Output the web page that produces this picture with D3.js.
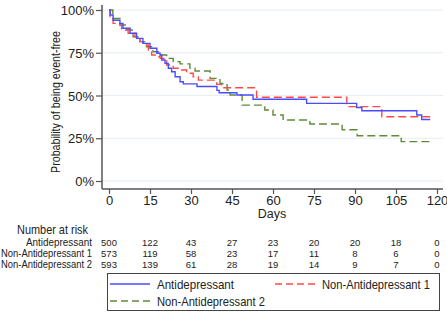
<!DOCTYPE html>
<html>
<head>
<meta charset="utf-8">
<script src="https://d3js.org/d3.v7.min.js"></script>
<style>
  body { margin: 0; background: #fff; }
  text { font-family: "Liberation Sans Narrow", "Arial Narrow", "Liberation Sans", Arial, sans-serif; }
</style>
</head>
<body>
<svg id="drawing_region"></svg>
<script>
// Kaplan-Meier steps (day, survival after the drop)
var antiDays = [0, 0.4, 1.5, 4.0, 5.1, 7.7, 10.1, 12.4, 15.0, 17.5, 18.7, 19.3, 20.5, 21.7, 22.9, 24.2, 26.0, 27.2, 32.2, 39.5, 40.3, 46.8, 52.7, 72.3, 90.6, 92.5, 112.6, 114.4, 117.5];
var antiSurv = [1.0, 0.971, 0.94, 0.922, 0.893, 0.864, 0.834, 0.805, 0.776, 0.747, 0.737, 0.708, 0.688, 0.659, 0.639, 0.61, 0.58, 0.568, 0.553, 0.53, 0.516, 0.503, 0.478, 0.454, 0.43, 0.411, 0.386, 0.36, 0.36];

var non1Days = [0, 0.4, 1.5, 4.0, 4.6, 7.0, 9.5, 11.3, 12.6, 14.4, 15.6, 17.5, 18.7, 21.1, 23.5, 26.0, 28.4, 30.8, 32.7, 39.4, 41.2, 54.0, 87.0, 99.8, 117.5];
var non1Surv = [1.0, 0.96, 0.922, 0.912, 0.883, 0.864, 0.844, 0.815, 0.795, 0.766, 0.737, 0.727, 0.717, 0.678, 0.659, 0.649, 0.63, 0.61, 0.59, 0.565, 0.545, 0.49, 0.435, 0.376, 0.376];

var non2Days = [0, 1.4, 4.0, 6.5, 8.8, 11.3, 13.7, 16.1, 18.7, 21.1, 23.5, 26.0, 29.6, 31.5, 37.0, 40.6, 43.2, 44.3, 48.7, 57.0, 60.0, 63.7, 73.5, 85.3, 90.8, 106.9, 117.5];
var non2Surv = [1.0, 0.95, 0.912, 0.883, 0.844, 0.815, 0.785, 0.756, 0.737, 0.717, 0.698, 0.685, 0.66, 0.643, 0.60, 0.57, 0.532, 0.503, 0.444, 0.415, 0.386, 0.357, 0.333, 0.30, 0.265, 0.23, 0.23];

var groupNames = ["Antidepressant", "Non-Antidepressant 1", "Non-Antidepressant 2"];
var xTicks = [0, 15, 30, 45, 60, 75, 90, 105, 120];
var yTicks = [0, 0.25, 0.5, 0.75, 1];
var riskAnti = [500, 122, 43, 27, 23, 20, 20, 18, 0];
var riskNon1 = [573, 119, 58, 23, 17, 11, 8, 6, 0];
var riskNon2 = [593, 139, 61, 28, 19, 14, 9, 7, 0];

var width = 447, height = 313;
var svg = d3.select("#drawing_region")
    .attr("width", width)
    .attr("height", height);

var xscale = d3.scaleLinear().domain([0, 120]).range([109, 437]);
var yscale = d3.scaleLinear().domain([0, 1]).range([181, 10]);

var series = [
    { name: groupNames[0], days: antiDays, surv: antiSurv, color: "#4b4bff", dash: null, risk: riskAnti },
    { name: groupNames[1], days: non1Days, surv: non1Surv, color: "#ff4a4a", dash: "8,4", risk: riskNon1 },
    { name: groupNames[2], days: non2Days, surv: non2Surv, color: "#5e8c36", dash: "8,4", risk: riskNon2 }
];

// keep a text at the width it has in the picture, whatever narrow font is found
function fitWidth(sel, w) {
    sel.each(function() {
        if (this.getComputedTextLength() > w + 1) {
            d3.select(this).attr("textLength", w).attr("lengthAdjust", "spacingAndGlyphs");
        }
    });
}

// gridlines
svg.append("g").selectAll("line")
    .data(yTicks)
    .enter().append("line")
    .attr("x1", 102).attr("x2", 443)
    .attr("y1", d => yscale(d)).attr("y2", d => yscale(d))
    .attr("stroke", "#e6edf4").attr("stroke-width", 1);

// axes
var yaxis = d3.axisLeft(yscale).tickValues(yTicks).tickSize(6).tickFormat(d3.format(".0%"));
var yaxis_group = svg.append("g")
    .attr("transform", "translate(102,0)")
    .call(yaxis);
yaxis_group.select(".domain").attr("d", "M0,5V189").attr("stroke", "#555").attr("stroke-width", 1.5);

var xaxis = d3.axisBottom(xscale).tickValues(xTicks).tickSize(5);
var xaxis_group = svg.append("g")
    .attr("transform", "translate(0,189)")
    .call(xaxis);
xaxis_group.select(".domain").attr("d", "M102,0H443").attr("stroke", "#555").attr("stroke-width", 1.5);

svg.selectAll(".tick line").attr("stroke", "#555").attr("stroke-width", 1.2);
svg.selectAll(".tick text")
    .attr("fill", "#222")
    .style("font-family", "'Liberation Sans Narrow', 'Arial Narrow', 'Liberation Sans', Arial, sans-serif")
    .style("font-size", "13px");
yaxis_group.selectAll(".tick text").attr("x", -8).attr("dy", "0.35em");
xaxis_group.selectAll(".tick text").attr("y", 7);

svg.append("text")
    .attr("transform", "translate(60,102) rotate(-90)")
    .attr("text-anchor", "middle")
    .attr("font-size", "12.5px").attr("fill", "#222")
    .text("Probability of being event-free")
    .call(fitWidth, 142);

svg.append("text")
    .attr("x", 272).attr("y", 218)
    .attr("text-anchor", "middle")
    .attr("font-size", "12.5px").attr("fill", "#222")
    .text("Days");

// curves
var line = d3.line()
    .x(d => xscale(d[0]))
    .y(d => yscale(d[1]))
    .curve(d3.curveStepAfter);

svg.append("g").selectAll("path")
    .data(series.slice().reverse())
    .enter().append("path")
    .attr("d", s => line(s.days.map((d, i) => [d, s.surv[i]])))
    .attr("fill", "none")
    .attr("stroke", s => s.color)
    .attr("stroke-width", 1.4)
    .attr("stroke-dasharray", s => s.dash);

// number at risk table
svg.append("text")
    .attr("x", 17).attr("y", 234)
    .attr("font-size", "13.5px").attr("fill", "#222")
    .text("Number at risk")
    .call(fitWidth, 71);

var rowY = [246, 257, 268];
var rowW = [66, 91, 91];
series.forEach((s, k) => {
    svg.append("text")
        .attr("x", 92).attr("y", rowY[k])
        .attr("text-anchor", "end")
        .attr("font-size", "10.5px").attr("fill", "#222")
        .text(s.name)
        .call(fitWidth, rowW[k]);
    svg.append("g").selectAll("text")
        .data(s.risk)
        .enter().append("text")
        .attr("x", (d, i) => xscale(xTicks[i]))
        .attr("y", rowY[k])
        .attr("text-anchor", "middle")
        .attr("font-family", "'Liberation Sans', Arial, sans-serif")
        .attr("font-size", "9.5px").attr("fill", "#222")
        .text(d => d);
});

// legend
var legend = svg.append("g");
legend.append("rect")
    .attr("x", 107.5).attr("y", 273.5)
    .attr("width", 332).attr("height", 37)
    .attr("fill", "#fff").attr("stroke", "#444").attr("stroke-width", 1);

var legendPos = [[110, 284], [275, 284], [110, 301]];
var legendW = [77, 108, 108];
series.forEach((s, k) => {
    var p = legendPos[k];
    legend.append("line")
        .attr("x1", p[0]).attr("x2", p[0] + 40)
        .attr("y1", p[1]).attr("y2", p[1])
        .attr("stroke", s.color).attr("stroke-width", 1.4)
        .attr("stroke-dasharray", s.dash ? "7,4" : null);
    legend.append("text")
        .attr("x", p[0] + 47).attr("y", p[1] + 4.5)
        .attr("font-size", "13px").attr("fill", "#222")
        .text(s.name)
        .call(fitWidth, legendW[k]);
});
</script>
</body>
</html>
